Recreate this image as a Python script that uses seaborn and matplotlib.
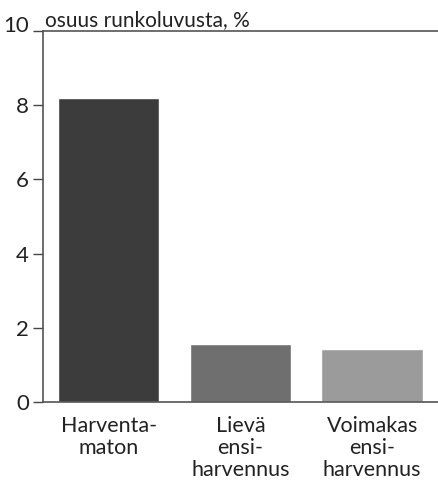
import matplotlib
matplotlib.use("Agg")
import matplotlib.pyplot as plt
import matplotlib.transforms as mtransforms
import seaborn as sns
import pandas as pd

categories = ["Harventa-\nmaton", "Lievä\nensi-\nharvennus", "Voimakas\nensi-\nharvennus"]
values = [8.2, 1.56, 1.43]
bar_colors = ["#3c3c3c", "#6f6f6f", "#9b9b9b"]
yticks = [0, 2, 4, 6, 8, 10]
ylabel = "osuus runkoluvusta, %"

sns.set_theme(style="white")
plt.rcParams['font.family'] = ['Lato', 'DejaVu Sans']

df = pd.DataFrame({"cat": categories, "val": values})

fig = plt.figure(figsize=(4.38, 4.84), dpi=100)
ax = fig.add_axes([0.098, 0.169, 0.902, 0.767])
sns.barplot(data=df, x="cat", y="val", hue="cat", palette=bar_colors,
            legend=False, width=0.77, ax=ax, saturation=1)
ax.set_xlim(-0.5, 2.5)
ax.set_ylim(0, 10)
ax.set_yticks(yticks)
ax.set_yticklabels([str(t) for t in yticks], fontsize=16, color="#222222")
ax.tick_params(axis="y", direction="out", length=7, width=1, color="#444444", pad=3, left=True)
ax.tick_params(axis="x", length=0, pad=10, labelsize=15.5, labelcolor="#222222")
for lab in ax.get_xticklabels():
    lab.set_linespacing(1.12)
# the top label "10" sits slightly above its line in the reference
top_lab = ax.get_yticklabels()[-1]
top_lab.set_transform(top_lab.get_transform() +
                      mtransforms.ScaledTranslation(0, 7 / 100, fig.dpi_scale_trans))
ax.set_xlabel("")
ax.set_ylabel("")
for s in ["left", "bottom", "top"]:
    ax.spines[s].set_visible(True)
    ax.spines[s].set_color("#555555")
    ax.spines[s].set_linewidth(1.2)
ax.spines["right"].set_visible(False)
ax.text(0.005, 1.003, ylabel, transform=ax.transAxes, fontsize=15,
        color="#222222", ha="left", va="bottom")
fig.savefig("out.png", dpi=100)
